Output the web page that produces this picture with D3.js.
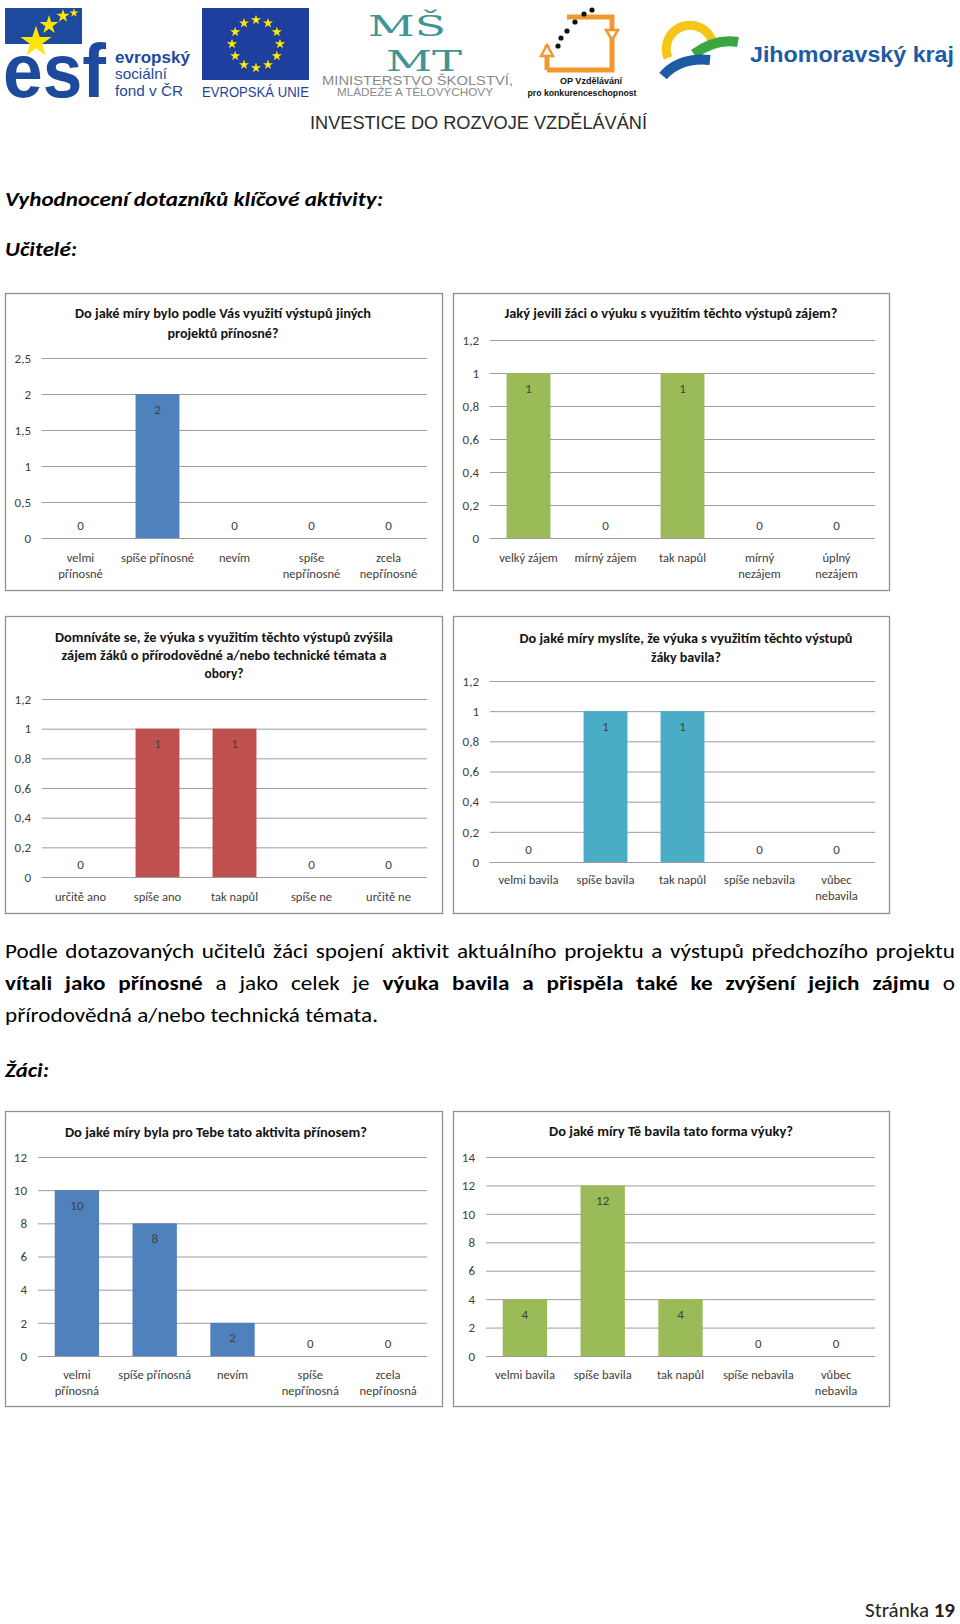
<!DOCTYPE html>
<html><head><meta charset="utf-8">
<script src="https://cdn.jsdelivr.net/npm/d3@7"></script>
<style>body{margin:0;background:#fff}svg{display:block}</style>
</head><body><svg id="page" width="960" height="1624"></svg>
<script>
// ---------------- DATA ----------------
const c1Categories = ["velmi|přínosné", "spíše přínosné", "nevím", "spíše|nepřínosné", "zcela|nepřínosné"];
const c1Values = [0, 2, 0, 0, 0];
const c1Ticks = [0, 0.5, 1, 1.5, 2, 2.5];
const c1Title = ["Do jaké míry bylo podle Vás využití výstupů jiných", "projektů přínosné?"];

const c2Categories = ["velký zájem", "mírný zájem", "tak napůl", "mírný|nezájem", "úplný|nezájem"];
const c2Values = [1, 0, 1, 0, 0];
const c2Ticks = [0, 0.2, 0.4, 0.6, 0.8, 1, 1.2];
const c2Title = ["Jaký jevili žáci o výuku s využitím těchto výstupů zájem?"];

const c3Categories = ["určitě ano", "spíše ano", "tak napůl", "spíše ne", "určitě ne"];
const c3Values = [0, 1, 1, 0, 0];
const c3Ticks = [0, 0.2, 0.4, 0.6, 0.8, 1, 1.2];
const c3Title = ["Domníváte se, že výuka s využitím těchto výstupů zvýšila", "zájem žáků o přírodovědné a/nebo technické témata a", "obory?"];

const c4Categories = ["velmi bavila", "spíše bavila", "tak napůl", "spíše nebavila", "vůbec|nebavila"];
const c4Values = [0, 1, 1, 0, 0];
const c4Ticks = [0, 0.2, 0.4, 0.6, 0.8, 1, 1.2];
const c4Title = ["Do jaké míry myslíte, že výuka s využitím těchto výstupů", "žáky bavila?"];

const c5Categories = ["velmi|přínosná", "spíše přínosná", "nevím", "spíše|nepřínosná", "zcela|nepřínosná"];
const c5Values = [10, 8, 2, 0, 0];
const c5Ticks = [0, 2, 4, 6, 8, 10, 12];
const c5Title = ["Do jaké míry byla pro Tebe tato aktivita přínosem?"];

const c6Categories = ["velmi bavila", "spíše bavila", "tak napůl", "spíše nebavila", "vůbec|nebavila"];
const c6Values = [4, 12, 4, 0, 0];
const c6Ticks = [0, 2, 4, 6, 8, 10, 12, 14];
const c6Title = ["Do jaké míry Tě bavila tato forma výuky?"];

// ---------------- SETUP ----------------
const svg = d3.select("#page");
const FONT = "Carlito, Calibri, Lato, 'Open Sans', sans-serif";
svg.attr("font-family", FONT);
const fmt = v => String(v).replace(".", ",");
function fit(sel, w) { sel.attr("textLength", w).attr("lengthAdjust", "spacingAndGlyphs"); }

// ---------------- HEADER / LOGOS ----------------
const hdr = svg.append("g");
// ESF
const esfBlue = "#1d4a9c";
hdr.append("rect").attr("x", 5).attr("y", 8).attr("width", 77).attr("height", 36).attr("fill", esfBlue);
hdr.append("text").attr("x", 3).attr("y", 97).attr("font-family", "'Liberation Sans', Arial, sans-serif")
  .attr("font-weight", "bold").attr("font-size", 76).attr("fill", esfBlue).text("esf").call(fit, 103);
const starSym = d3.symbol().type(d3.symbolStar);
[[36, 42, 300], [49, 25, 110], [63, 16, 55], [74, 13, 25]].forEach(([x, y, s]) => {
  hdr.append("path").attr("d", starSym.size(s)()).attr("transform", `translate(${x},${y})`).attr("fill", "#ffe600");
});
hdr.append("text").attr("x", 115).attr("y", 63).attr("font-family", "'Liberation Sans', Arial, sans-serif")
  .attr("font-weight", "bold").attr("font-size", 17).attr("fill", esfBlue).text("evropský").call(fit, 75);
hdr.append("text").attr("x", 115).attr("y", 79).attr("font-family", "'Liberation Sans', Arial, sans-serif")
  .attr("font-size", 15).attr("fill", esfBlue).text("sociální").call(fit, 52);
hdr.append("text").attr("x", 115).attr("y", 96).attr("font-family", "'Liberation Sans', Arial, sans-serif")
  .attr("font-size", 15).attr("fill", esfBlue).text("fond v ČR").call(fit, 68);
// EU flag
hdr.append("rect").attr("x", 202).attr("y", 8).attr("width", 107).attr("height", 72).attr("fill", "#1f3f9e");
d3.range(12).forEach(i => {
  const a = i / 12 * 2 * Math.PI;
  hdr.append("path").attr("d", starSym.size(32)()).attr("transform", `translate(${256 + 24 * Math.sin(a)},${44 - 24 * Math.cos(a)})`).attr("fill", "#ffea00");
});
hdr.append("text").attr("x", 202).attr("y", 97).attr("font-family", "'Liberation Sans', Arial, sans-serif")
  .attr("font-size", 14).attr("fill", "#1f3f9e").text("EVROPSKÁ UNIE").call(fit, 107);
// MSMT
const teal = "#3f9496";
hdr.append("text").attr("x", 368).attr("y", 36).attr("font-family", "'DejaVu Serif', serif").attr("font-size", 27)
  .attr("fill", teal).text("MŠ").call(fit, 78);
hdr.append("text").attr("x", 386).attr("y", 71).attr("font-family", "'DejaVu Serif', serif").attr("font-size", 27)
  .attr("fill", teal).text("MT").call(fit, 76);
hdr.append("text").attr("x", 322).attr("y", 85).attr("font-family", "'Liberation Sans', Arial, sans-serif")
  .attr("font-size", 12).attr("fill", "#8a8a8a").text("MINISTERSTVO ŠKOLSTVÍ,").call(fit, 191);
hdr.append("text").attr("x", 337).attr("y", 96).attr("font-family", "'Liberation Sans', Arial, sans-serif")
  .attr("font-size", 11).attr("fill", "#8a8a8a").text("MLÁDEŽE A TĚLOVÝCHOVY").call(fit, 156);
// OP logo
const orange = "#f2992e";
hdr.append("path").attr("d", "M547,70 L547,45 M547,70 L612,70 L612,30 M547,17 L612,17 L612,32")
  .attr("fill", "none").attr("stroke", orange).attr("stroke-width", 5);
hdr.append("path").attr("d", "M606,30 L618,30 L612,40 Z").attr("fill", "#fff").attr("stroke", orange).attr("stroke-width", 2.5);
hdr.append("path").attr("d", "M541,56 L553,56 L547,45 Z").attr("fill", "#fff").attr("stroke", orange).attr("stroke-width", 2.5);
hdr.append("rect").attr("x", 545).attr("y", 13).attr("width", 22).attr("height", 30).attr("fill", "#fff");
[[592, 10], [584, 14], [575, 22], [567, 31], [561, 38], [558, 46]].forEach(([x, y]) =>
  hdr.append("circle").attr("cx", x).attr("cy", y).attr("r", 2.6).attr("fill", "#111"));
hdr.append("text").attr("x", 591).attr("y", 84).attr("text-anchor", "middle").attr("font-family", "'Liberation Sans', Arial, sans-serif")
  .attr("font-weight", "bold").attr("font-size", 9.5).attr("fill", "#111").text("OP Vzdělávání").call(fit, 62);
hdr.append("text").attr("x", 582).attr("y", 96).attr("text-anchor", "middle").attr("font-family", "'Liberation Sans', Arial, sans-serif")
  .attr("font-weight", "bold").attr("font-size", 9.5).attr("fill", "#111").text("pro konkurenceschopnost").call(fit, 109);
// Jihomoravsky kraj
hdr.append("path").attr("d", "M668,58 A22,22 0 1,1 712,40").attr("fill", "none").attr("stroke", "#f5c518").attr("stroke-width", 9);
hdr.append("path").attr("d", "M694,54 Q716,38 738,42").attr("fill", "none").attr("stroke", "#3aa642").attr("stroke-width", 10);
hdr.append("path").attr("d", "M663,76 Q680,57 710,60").attr("fill", "none").attr("stroke", "#1d5ba5").attr("stroke-width", 10);
hdr.append("text").attr("x", 750).attr("y", 62).attr("font-family", "'Liberation Sans', Arial, sans-serif")
  .attr("font-weight", "bold").attr("font-size", 22).attr("fill", "#1d5ba5").text("Jihomoravský kraj").call(fit, 204);
hdr.append("text").attr("x", 310).attr("y", 129).attr("font-family", "'Liberation Sans', Arial, sans-serif")
  .attr("font-size", 19).attr("fill", "#2a2a2a").text("INVESTICE DO ROZVOJE VZDĚLÁVÁNÍ").call(fit, 337);

// ---------------- HEADINGS ----------------
svg.append("text").attr("x", 5).attr("y", 206).attr("font-size", 21).attr("font-weight", "bold").attr("font-style", "italic")
  .text("Vyhodnocení dotazníků klíčové aktivity:").call(fit, 378);
svg.append("text").attr("x", 5).attr("y", 256).attr("font-size", 21).attr("font-weight", "bold").attr("font-style", "italic")
  .text("Učitelé:").call(fit, 72);
svg.append("text").attr("x", 5).attr("y", 1077).attr("font-size", 21).attr("font-weight", "bold").attr("font-style", "italic")
  .text("Žáci:").call(fit, 44);

// ---------------- PARAGRAPH ----------------
const paraLines = [
  [{ t: "Podle dotazovaných učitelů žáci spojení aktivit aktuálního projektu a výstupů předchozího projektu", b: false }],
  [{ t: "vítali jako přínosné", b: true }, { t: "a jako celek je", b: false }, { t: "výuka bavila a přispěla také ke zvýšení jejich zájmu", b: true }, { t: "o", b: false }],
  [{ t: "přírodovědná a/nebo technická témata.", b: false }]
];
const paraY = [958, 990, 1022];
const para = svg.append("g").attr("font-size", 20).attr("fill", "#000");
const probe = para.append("text").text(paraLines[2][0].t);
const s = 373 / probe.node().getComputedTextLength();
probe.attr("x", 5).attr("y", paraY[2]).call(fit, 373);
[0, 1].forEach(li => {
  const words = [];
  paraLines[li].forEach(run => run.t.split(" ").forEach(w => words.push({ w, b: run.b })));
  const nodes = words.map(d => {
    const t = para.append("text").attr("y", paraY[li]).attr("font-weight", d.b ? "bold" : "normal").text(d.w);
    return { t, len: t.node().getComputedTextLength() * s };
  });
  const total = d3.sum(nodes, d => d.len);
  const gap = (950 - total) / (nodes.length - 1);
  let x = 5;
  nodes.forEach(n => { n.t.attr("x", x).call(fit, n.len); x += n.len + gap; });
});

// ---------------- FOOTER ----------------
const ft = svg.append("text").attr("x", 955).attr("y", 1617).attr("text-anchor", "end").attr("font-size", 21).attr("fill", "#222");
ft.append("tspan").text("Stránka ");
ft.append("tspan").attr("font-weight", "bold").text("19");

// ---------------- CHARTS ----------------
function drawChart(cfg) {
  const g = svg.append("g");
  const [bx, by, bw, bh] = cfg.box;
  const p = cfg.plot;
  g.append("rect").attr("x", bx + 0.5).attr("y", by + 0.5).attr("width", bw).attr("height", bh)
    .attr("fill", "#fff").attr("stroke", "#8f8f8f").attr("stroke-width", 1.3);
  cfg.title.forEach((t, i) => {
    g.append("text").attr("x", cfg.titleX).attr("y", cfg.titleY[i] + 4.5).attr("text-anchor", "middle")
      .attr("font-weight", "bold").attr("font-size", 13).attr("fill", "#141414").text(t).call(fit, cfg.titleW[i]);
  });
  const y = d3.scaleLinear().domain([0, d3.max(cfg.ticks)]).range([p.y1, p.y0]);
  const x = d3.scaleBand().domain(d3.range(cfg.categories.length)).range([p.x0, p.x1]).paddingInner(0.43).paddingOuter(0.215);
  const grid = g.append("g").attr("transform", `translate(${p.x0},0)`)
    .call(d3.axisLeft(y).tickValues(cfg.ticks).tickSize(-(p.x1 - p.x0)).tickPadding(11).tickFormat(fmt));
  grid.select(".domain").remove();
  grid.selectAll(".tick line").attr("stroke", "#9c9c9c").attr("stroke-width", 1);
  grid.selectAll(".tick text").attr("font-size", 13).attr("fill", "#404040").attr("font-family", FONT);
  g.selectAll("rect.bar").data(cfg.values).join("rect").attr("class", "bar")
    .attr("x", (d, i) => x(i)).attr("width", x.bandwidth())
    .attr("y", d => y(d)).attr("height", d => y(0) - y(d)).attr("fill", cfg.color);
  g.selectAll("text.dl").data(cfg.values).join("text").attr("class", "dl")
    .attr("x", (d, i) => x(i) + x.bandwidth() / 2)
    .attr("y", d => d === 0 ? y(0) - 13 + 4.5 : y(d) + 15 + 4.5)
    .attr("text-anchor", "middle").attr("font-size", 13).attr("fill", "#404040").text(d => d);
  cfg.categories.forEach((c, i) => {
    c.split("|").forEach((line, k) => {
      g.append("text").attr("x", x(i) + x.bandwidth() / 2).attr("y", p.y1 + cfg.labOff + 4.5 + k * 16)
        .attr("text-anchor", "middle").attr("font-size", 12.5).attr("fill", "#404040").text(line);
    });
  });
}

drawChart({ categories: c1Categories, values: c1Values, ticks: c1Ticks, title: c1Title, color: "#4f81bd",
  box: [5, 293, 437, 297], plot: { x0: 42, x1: 427, y0: 358, y1: 538 }, titleX: 223, titleY: [313, 333], titleW: [296, 111], labOff: 19 });
drawChart({ categories: c2Categories, values: c2Values, ticks: c2Ticks, title: c2Title, color: "#9bbb59",
  box: [453, 293, 436, 297], plot: { x0: 490, x1: 875, y0: 340, y1: 538 }, titleX: 671, titleY: [313], titleW: [333], labOff: 19 });
drawChart({ categories: c3Categories, values: c3Values, ticks: c3Ticks, title: c3Title, color: "#c0504d",
  box: [5, 616, 437, 297], plot: { x0: 42, x1: 427, y0: 699, y1: 877 }, titleX: 224, titleY: [637, 655, 673], titleW: [338, 325, 39], labOff: 19 });
drawChart({ categories: c4Categories, values: c4Values, ticks: c4Ticks, title: c4Title, color: "#4bacc6",
  box: [453, 616, 436, 297], plot: { x0: 490, x1: 875, y0: 681, y1: 862 }, titleX: 686, titleY: [638, 657], titleW: [333, 70], labOff: 17 });
drawChart({ categories: c5Categories, values: c5Values, ticks: c5Ticks, title: c5Title, color: "#4f81bd",
  box: [5, 1111, 437, 295], plot: { x0: 38, x1: 427, y0: 1157, y1: 1356 }, titleX: 216, titleY: [1132], titleW: [302], labOff: 18 });
drawChart({ categories: c6Categories, values: c6Values, ticks: c6Ticks, title: c6Title, color: "#9bbb59",
  box: [453, 1111, 436, 295], plot: { x0: 486, x1: 875, y0: 1157, y1: 1356 }, titleX: 671, titleY: [1131], titleW: [244], labOff: 18 });
</script>
</body></html>
